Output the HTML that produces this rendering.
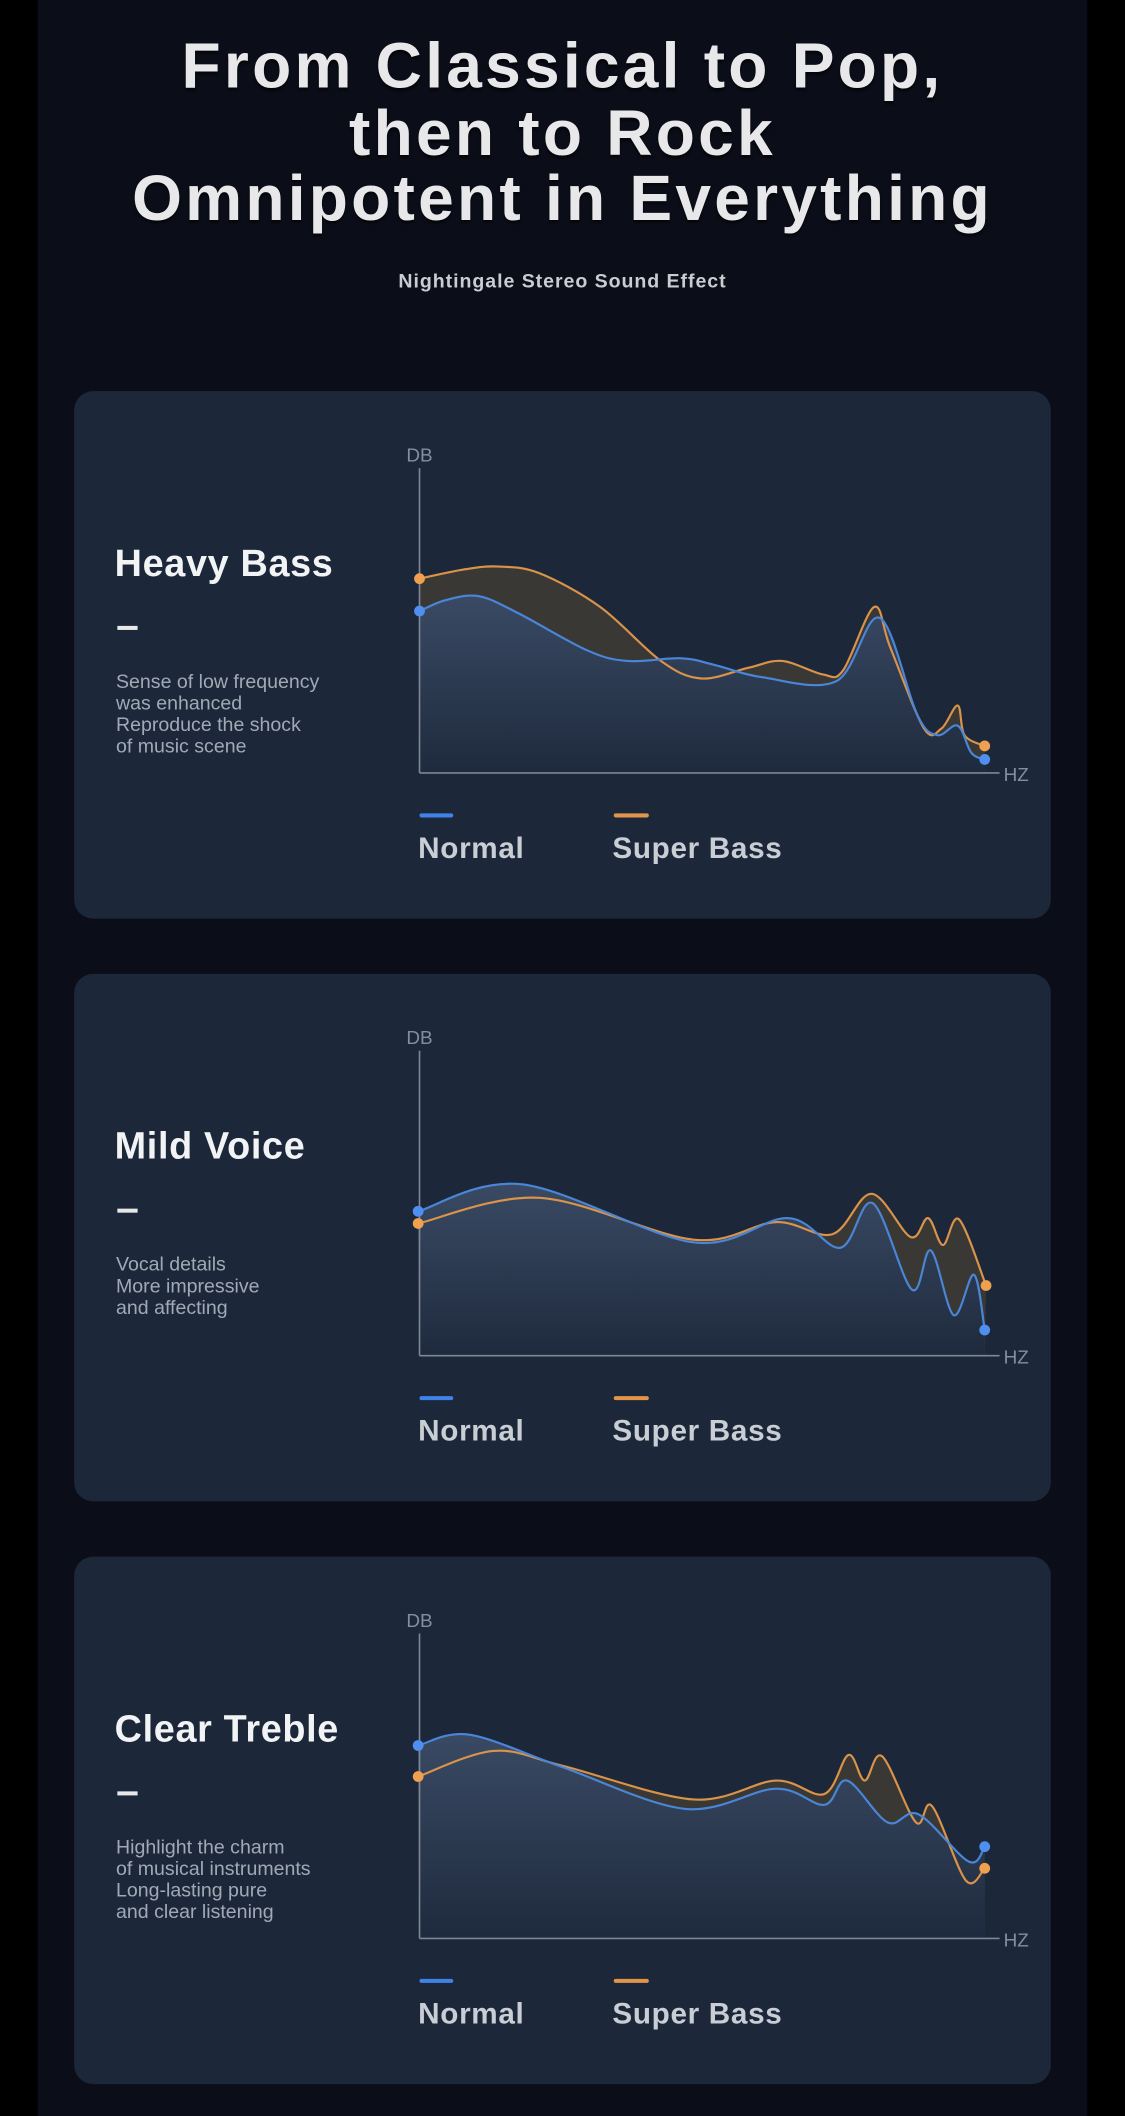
<!DOCTYPE html>
<html><head><meta charset="utf-8">
<style>
html,body{margin:0;padding:0;background:#000;}
body{width:1125px;height:2116px;overflow:hidden;position:relative;font-family:"Liberation Sans",sans-serif;}
#wrap{position:absolute;left:0;top:0;width:834px;height:1569px;transform:scale(1.34892);transform-origin:0 0;}
#panel{position:absolute;left:28px;top:0;width:778px;height:1569px;background:#0b0e18;}
.t{position:absolute;left:0;width:834px;text-align:center;color:#e8e8ea;font-weight:bold;font-size:47.5px;letter-spacing:2.4px;text-shadow:0 2px 2px rgba(0,0,0,.6);line-height:50px;}
.sub{position:absolute;left:0;width:834px;text-align:center;top:201px;color:#c9ccd2;font-weight:bold;font-size:14.5px;letter-spacing:.7px;}
.card{position:absolute;left:55px;width:724px;height:391px;background:#1c283a;border-radius:14px;overflow:hidden;}
.card svg{position:absolute;left:0;top:0;}
.h{position:absolute;left:30px;top:112px;color:#f2f3f5;font-weight:bold;font-size:28px;letter-spacing:.5px;}
.dash{position:absolute;left:32px;top:174px;width:15px;height:2.5px;background:#e8e8e8;}
.d{position:absolute;left:31px;top:208px;color:#a2a9b5;font-size:14.5px;line-height:16px;}
.lg{position:absolute;top:326px;color:#c9cdd4;font-weight:bold;font-size:22px;letter-spacing:.5px;}
</style></head><body>
<div id="wrap">
<div id="panel"></div>
<div class="t" style="top:25px">From Classical to Pop,</div>
<div class="t" style="top:75px">then to Rock</div>
<div class="t" style="top:123px">Omnipotent in Everything</div>
<div class="sub">Nightingale Stereo Sound Effect</div>

<div class="card" style="top:290px"><svg id="s0" width="724" height="391"></svg>
<div class="h">Heavy Bass</div><div class="dash"></div>
<div class="d">Sense of low frequency<br>was enhanced<br>Reproduce the shock<br>of music scene</div>
<div class="lg" style="left:255px">Normal</div><div class="lg" style="left:399px">Super Bass</div></div>

<div class="card" style="top:722px"><svg id="s1" width="724" height="391"></svg>
<div class="h">Mild Voice</div><div class="dash"></div>
<div class="d">Vocal details<br>More impressive<br>and affecting</div>
<div class="lg" style="left:255px">Normal</div><div class="lg" style="left:399px">Super Bass</div></div>

<div class="card" style="top:1154px"><svg id="s2" width="724" height="391"></svg>
<div class="h">Clear Treble</div><div class="dash"></div>
<div class="d">Highlight the charm<br>of musical instruments<br>Long-lasting pure<br>and clear listening</div>
<div class="lg" style="left:255px">Normal</div><div class="lg" style="left:399px">Super Bass</div></div>
</div>
<script>
var data=[
{o:[[256,139],[290,132],[315,130],[345,135],[390,160],[435,200],[465,213],[500,205],[525,200],[555,210],[570,207],[593,160],[605,190],[630,250],[643,250],[655,233],[660,255],[675,263]],
 b:[[256,163],[275,155],[300,152],[330,165],[380,192],[410,200],[450,198],[475,203],[510,212],[565,215],[597,168],[625,240],[640,255],[655,248],[665,268],[675,273]]},
{o:[[255,185],[345,166],[459,197],[520,184],[562,193],[591,163],[620,195],[633,181],[644,201],[656,182],[676,231]],
 b:[[255,176],[332,156],[459,199],[529,181],[568,203],[592,170],[621,234],[635,205],[652,253],[667,223],[675,264]]},
{o:[[255,163],[311,144],[362,155],[459,180],[520,166],[556,176],[574,147],[586,166],[599,148],[624,197],[636,185],[661,240],[675,231]],
 b:[[255,140],[293,132],[362,156],[453,187],[520,172],[556,184],[573,166],[603,197],[626,191],[663,226],[675,215]]}];
function path(p){var s="M"+p[0][0]+","+p[0][1];for(var i=0;i<p.length-1;i++){var p0=p[i-1]||p[i],p1=p[i],p2=p[i+1],p3=p[i+2]||p2;
s+=" C"+(p1[0]+(p2[0]-p0[0])/6).toFixed(1)+","+(p1[1]+(p2[1]-p0[1])/6).toFixed(1)+" "+(p2[0]-(p3[0]-p1[0])/6).toFixed(1)+","+(p2[1]-(p3[1]-p1[1])/6).toFixed(1)+" "+p2[0]+","+p2[1];}return s;}
data.forEach(function(d,i){
var po=path(d.o),pb=path(d.b),ax=256,by=283;
var h='<defs><linearGradient id="g'+i+'" x1="0" y1="0" x2="0" y2="1"><stop offset="0" stop-color="#3a4a64"/><stop offset="1" stop-color="#1e2a3d"/></linearGradient></defs>';
h+='<path d="'+po+' L675,'+by+' L'+ax+','+by+'Z" fill="#3a3835"/>';
h+='<path d="'+pb+' L675,'+by+' L'+ax+','+by+'Z" fill="url(#g'+i+')"/>';
h+='<path d="'+po+'" fill="none" stroke="#d9934a" stroke-width="1.6"/>';
h+='<path d="'+pb+'" fill="none" stroke="#4a86d8" stroke-width="1.6"/>';
h+='<line x1="256" y1="57" x2="256" y2="283" stroke="#7d8796" stroke-width="1.2"/><line x1="256" y1="283" x2="686" y2="283" stroke="#7d8796" stroke-width="1.2"/>';
h+='<text x="256" y="52" text-anchor="middle" fill="#858e9c" font-size="14" font-family="Liberation Sans">DB</text>';
h+='<text x="689" y="289" fill="#858e9c" font-size="14" font-family="Liberation Sans">HZ</text>';
var a=d.o[0],b=d.o[d.o.length-1],c=d.b[0],e=d.b[d.b.length-1];
h+='<circle cx="'+a[0]+'" cy="'+a[1]+'" r="4" fill="#f0a04e"/><circle cx="'+b[0]+'" cy="'+b[1]+'" r="4" fill="#f0a04e"/>';
h+='<circle cx="'+c[0]+'" cy="'+c[1]+'" r="4" fill="#4f8ff0"/><circle cx="'+e[0]+'" cy="'+e[1]+'" r="4" fill="#4f8ff0"/>';
h+='<rect x="256" y="313" width="25" height="3" rx="1.5" fill="#3f83e8"/><rect x="400" y="313" width="26" height="3" rx="1.5" fill="#e2954a"/>';
document.getElementById("s"+i).innerHTML=h;});
</script>
</body></html>
